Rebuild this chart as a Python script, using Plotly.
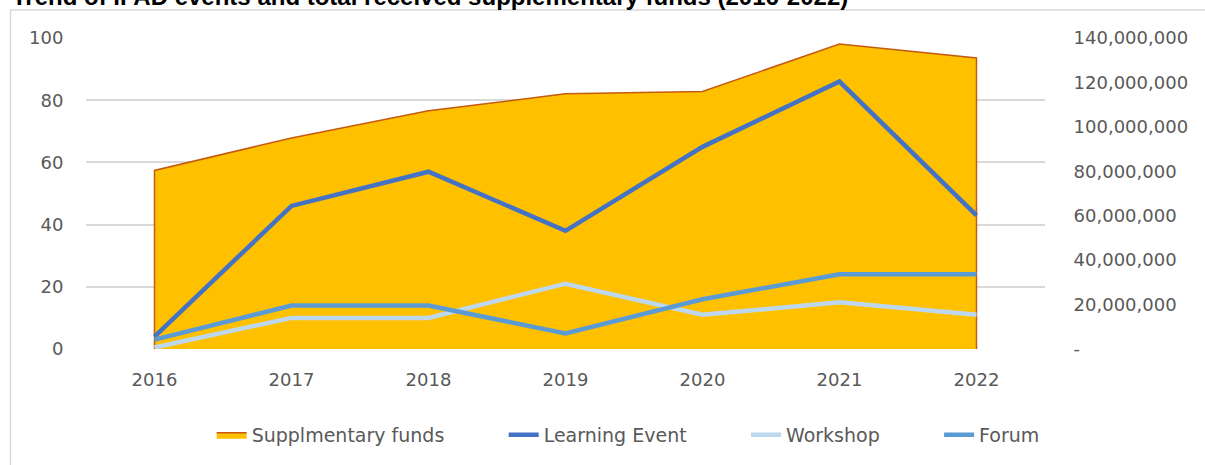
import plotly.graph_objects as go

years = ["2016", "2017", "2018", "2019", "2020", "2021", "2022"]
supplementary_funds = [80400000, 95000000, 107200000, 114900000, 115900000, 137300000, 131000000]
learning_event = [4, 46, 57, 38, 65, 86, 43]
workshop = [0.5, 10, 10, 21, 11, 15, 11]
forum = [3, 14, 14, 5, 16, 24, 24]

left_ticks = [0, 20, 40, 60, 80, 100]
right_ticks = [0, 20000000, 40000000, 60000000, 80000000, 100000000, 120000000, 140000000]
right_ticktext = ["-" if v == 0 else f"{v:,}" for v in right_ticks]

title_text = "Trend of IFAD events and total received supplementary funds (2016-2022)"

FONT = "DejaVu Sans"
GREY = "#595959"
PAD = "\u00a0" * 9

fig = go.Figure()

# area (closed down to zero at both ends so the outline shows vertical edges)
area_x = [years[0]] + years + [years[-1]]
area_y = [0] + supplementary_funds + [0]
fig.add_trace(go.Scatter(
    x=area_x, y=area_y, name="Supplmentary funds" + PAD,
    mode="lines", fill="tozeroy", fillcolor="#FFC000",
    line=dict(color="#C55A11", width=1.5),
    yaxis="y", hoverinfo="skip",
))

for name, vals, col in [
    ("Learning Event", learning_event, "#4472C4"),
    ("Workshop", workshop, "#BDD7EE"),
    ("Forum", forum, "#5B9BD5"),
]:
    fig.add_trace(go.Scatter(
        x=years, y=vals, name=name + PAD, mode="lines",
        line=dict(color=col, width=4.5), yaxis="y2",
    ))

fig.update_layout(
    width=1205, height=465,
    margin=dict(l=86, r=160, t=38, b=115),
    paper_bgcolor="white", plot_bgcolor="white",
    font=dict(family=FONT, size=18, color=GREY),
    showlegend=True,
    legend=dict(orientation="h", x=0.594, xanchor="center", y=-0.272, yanchor="middle",
                font=dict(family=FONT, size=19, color=GREY), bgcolor="rgba(0,0,0,0)"),
    xaxis=dict(type="category", categoryorder="array", categoryarray=years,
               range=[-0.5, len(years) - 0.5], showgrid=False, showline=False, zeroline=False,
               ticks="outside", ticklen=14, tickcolor="rgba(0,0,0,0)",
               tickfont=dict(family=FONT, size=18, color=GREY)),
    yaxis=dict(side="right", range=[0, 140000000], tickvals=right_ticks, ticktext=right_ticktext,
               showgrid=False, zeroline=False, showline=False,
               ticks="outside", ticklen=24, tickcolor="rgba(0,0,0,0)",
               tickfont=dict(family=FONT, size=18, color=GREY)),
    yaxis2=dict(overlaying="y", side="left", range=[0, 100], tickvals=left_ticks,
                showgrid=True, gridcolor="#D9D9D9", gridwidth=1.5, zeroline=False, showline=False,
                ticks="outside", ticklen=18, tickcolor="rgba(0,0,0,0)",
                tickfont=dict(family=FONT, size=18, color=GREY)),
    shapes=[dict(type="rect", xref="paper", yref="paper",
                 x0=(10.5 - 86) / 959, x1=(1400 - 86) / 959,
                 y0=(350 - 600) / 312, y1=(350 - 10) / 312,
                 line=dict(color="#D9D9D9", width=1.5), fillcolor="rgba(0,0,0,0)", layer="above")],
    annotations=[dict(text="<b>" + title_text + "</b>", xref="paper", yref="paper",
                      x=(10 - 86) / 959, y=1, xanchor="left", yanchor="bottom", yshift=26,
                      showarrow=False,
                      font=dict(family="Liberation Sans", size=24, color="#000000"))],
)

fig.write_html(
    "out.html",
    config={"displayModeBar": False},
    post_script="document.body.style.margin='0px';document.body.style.padding='0px';"
                "document.body.style.overflow='hidden';",
)
